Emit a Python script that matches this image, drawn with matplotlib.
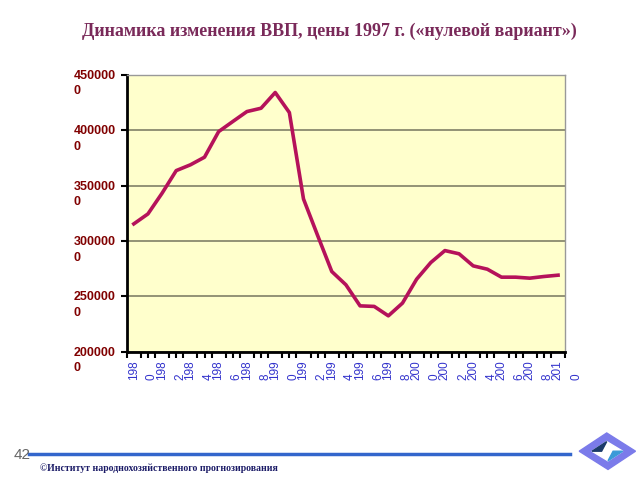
import matplotlib.pyplot as plt
from matplotlib.patches import Polygon
from matplotlib.transforms import ScaledTranslation
import numpy as np

years = list(range(1980, 2011))
gdp = [3155000, 3245000, 3432000, 3636000, 3688000, 3757000, 3988000, 4079000,
       4169000, 4199000, 4341000, 4160000, 3380000, 3050000, 2725000, 2605000,
       2415000, 2410000, 2325000, 2440000, 2656000, 2806000, 2914000, 2885000,
       2776000, 2746000, 2674000, 2674000, 2665000, 2680000, 2692000]
yticks = [2000000, 2500000, 3000000, 3500000, 4000000, 4500000]

title = 'Динамика изменения ВВП, цены 1997 г. («нулевой вариант»)'
footer = '©Институт народнохозяйственного прогнозирования'

fig = plt.figure(figsize=(6.4, 4.8), dpi=100)
ax = fig.add_axes([0.198, 0.267, 0.685, 0.577])
ax.set_facecolor('#ffffcc')

x = np.arange(len(years))
ax.plot(x, gdp, color='#b5125a', lw=2.6, solid_joinstyle='round')

ax.set_xlim(-0.5, len(years) - 0.5)
ax.set_ylim(2000000, 4500000)

# y axis: wrapped labels like "450000\n0"
ax.set_yticks(yticks)
ax.set_yticklabels([str(v)[:-1] + '\n' + str(v)[-1] for v in yticks],
                   fontsize=9, fontweight='bold', color='#800000',
                   family='Liberation Sans', ha='left', va='top',
                   linespacing=1.4)
ax.tick_params(axis='y', length=4, width=1.5, pad=34, direction='out')
ax.grid(axis='y', color='#808066', lw=1.2)

# x axis: every other year, split like "198\n0"
ax.set_xticks(x[::2])
ax.set_xticklabels([str(y)[:3] + '\n' + str(y)[3] for y in years[::2]],
                   rotation=90, fontsize=8.5, color='#3333cc',
                   family='Liberation Sans', linespacing=1.7, va='top',
                   multialignment='left')
ax.tick_params(axis='x', length=0, pad=6)
ax.set_xticks(np.arange(-0.5, len(years), 0.5), minor=True)
ax.tick_params(axis='x', which='minor', length=4, width=1.5, color='black')

for lab in ax.get_yticklabels():
    lab.set_transform(lab.get_transform() + ScaledTranslation(0, 0.05, fig.dpi_scale_trans))
for lab in ax.get_xticklabels():
    lab.set_transform(lab.get_transform() + ScaledTranslation(0.09, 0, fig.dpi_scale_trans))

for s in ['left', 'bottom']:
    ax.spines[s].set_linewidth(2)
    ax.spines[s].set_color('black')
for s in ['top', 'right']:
    ax.spines[s].set_linewidth(1)
    ax.spines[s].set_color('#999999')

fig.text(0.515, 0.935, title, ha='center', va='center', fontsize=13,
         fontweight='bold', family='Liberation Serif', color='#7a2a5a')

# footer
fig.text(0.022, 0.052, '42', fontsize=11, color='#666666', va='center',
         family='Liberation Sans')
fig.add_artist(plt.Line2D([0.045, 0.89], [0.054, 0.054], color='#3366cc', lw=2.5,
                          transform=fig.transFigure))
fig.text(0.062, 0.025, footer, fontsize=7, fontweight='bold', color='#1a1a66',
         va='center', family='Liberation Serif')

# logo
outer = [(0.905, 0.060), (0.948, 0.098), (0.993, 0.060), (0.950, 0.022)]
inner = [(0.925, 0.060), (0.948, 0.080), (0.973, 0.060), (0.950, 0.040)]
fig.add_artist(Polygon(outer, closed=True, color='#7b7bea', transform=fig.transFigure))
fig.add_artist(Polygon(inner, closed=True, color='#ffffff', transform=fig.transFigure))
fig.add_artist(Polygon([(0.925, 0.060), (0.948, 0.080), (0.940, 0.060)], closed=True,
                       color='#1a3a6a', transform=fig.transFigure))
fig.add_artist(Polygon([(0.973, 0.060), (0.950, 0.040), (0.958, 0.060)], closed=True,
                       color='#3a9ad8', transform=fig.transFigure))

fig.savefig('out.png', dpi=100)
